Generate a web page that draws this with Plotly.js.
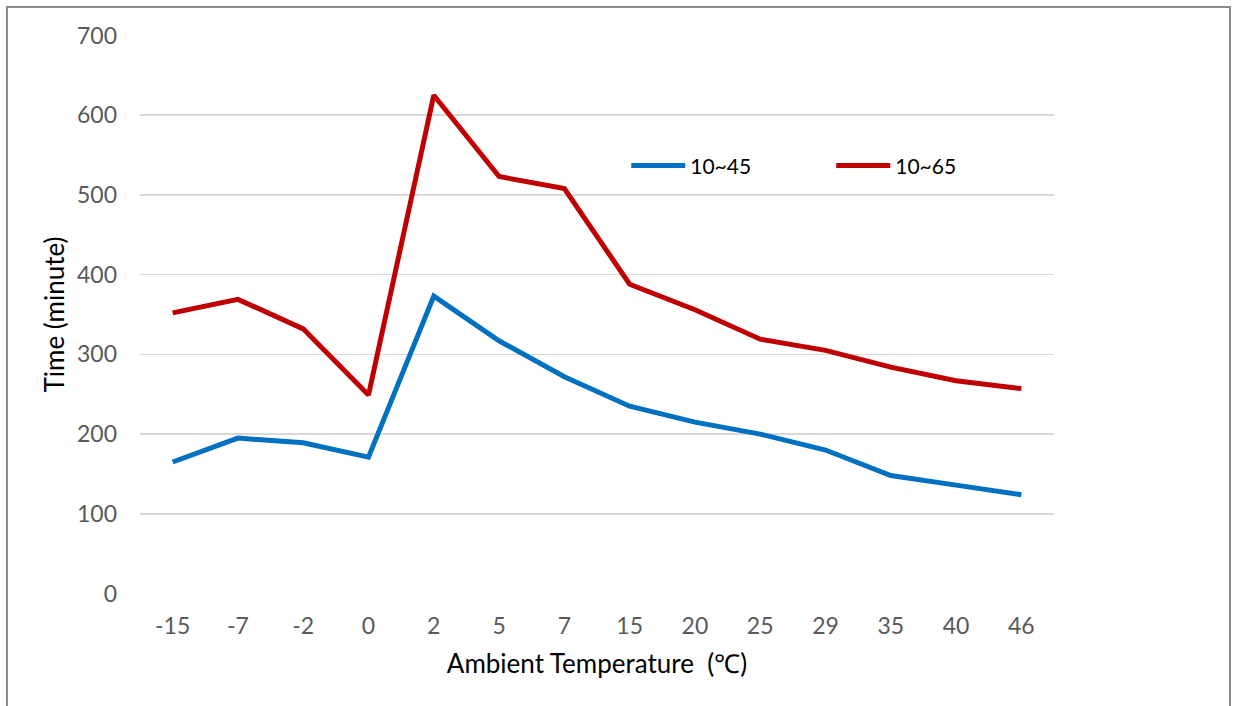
<!DOCTYPE html>
<html>
<head>
<meta charset="utf-8">
<script src="https://cdn.plot.ly/plotly-3.0.1.min.js"></script>
<style>
html,body{margin:0;padding:0;background:#fff;}
#wrap{position:relative;width:1234px;height:706px;overflow:hidden;}
#chart{width:1234px;height:706px;}
#frame{position:absolute;left:6px;top:6px;width:1225px;height:760px;border:2px solid #8c8c8c;pointer-events:none;box-sizing:border-box;}
</style>
</head>
<body>
<div id="wrap"><div id="chart"></div><div id="frame"></div></div>
<script>
var categories = ["-15","-7","-2","0","2","5","7","15","20","25","29","35","40","46"];
var series45 = [165,195,189,171,373,317,272,235,215,200,180,148,136,124];
var series65 = [352,369,332,249,625,523,508,388,356,319,305,284,267,257];
var seriesNames = ["10~45","10~65"];
var yTicks = [0,100,200,300,400,500,600,700];

var FONT = "Lato, Carlito, 'Liberation Sans', sans-serif";

var traces = [
  {x: categories, y: series45, name: seriesNames[0], type: "scatter", mode: "lines",
   line: {color: "#0070C0", width: 5}},
  {x: categories, y: series65, name: seriesNames[1], type: "scatter", mode: "lines",
   line: {color: "#C00000", width: 5}}
];

var layout = {
  width: 1234, height: 706,
  margin: {l: 140, r: 180, t: 35, b: 112},
  paper_bgcolor: "rgba(0,0,0,0)", plot_bgcolor: "#fff",
  font: {family: FONT, size: 23, color: "#595959"},
  showlegend: true,
  legend: {orientation: "h", x: 0.532, y: 0.766, xanchor: "left", yanchor: "middle",
    font: {family: FONT, size: 21, color: "#000"}, bgcolor: "rgba(0,0,0,0)",
    itemwidth: 54, entrywidth: 136, entrywidthmode: "pixels", tracegroupgap: 0},
  xaxis: {type: "category", range: [-0.5, 13.5], showgrid: false, zeroline: false, showline: false,
    ticks: "", tickfont: {size: 23, color: "#595959"}, ticklabelstandoff: 16,
    title: {text: "Ambient Temperature  (℃)", font: {size: 26, color: "#000"}, standoff: 16}},
  yaxis: {range: [-0.6, 700.6], tickvals: yTicks, showgrid: true, gridcolor: "#d9d9d9", gridwidth: 1.5,
    zeroline: false, showline: false, ticks: "", tickfont: {size: 23, color: "#595959"},
    ticklabelstandoff: 22,
    title: {text: "Time (minute)", font: {size: 26, color: "#000"}, standoff: 4}}
};

Plotly.newPlot("chart", traces, layout, {displayModeBar: false, staticPlot: true});
</script>
</body>
</html>
